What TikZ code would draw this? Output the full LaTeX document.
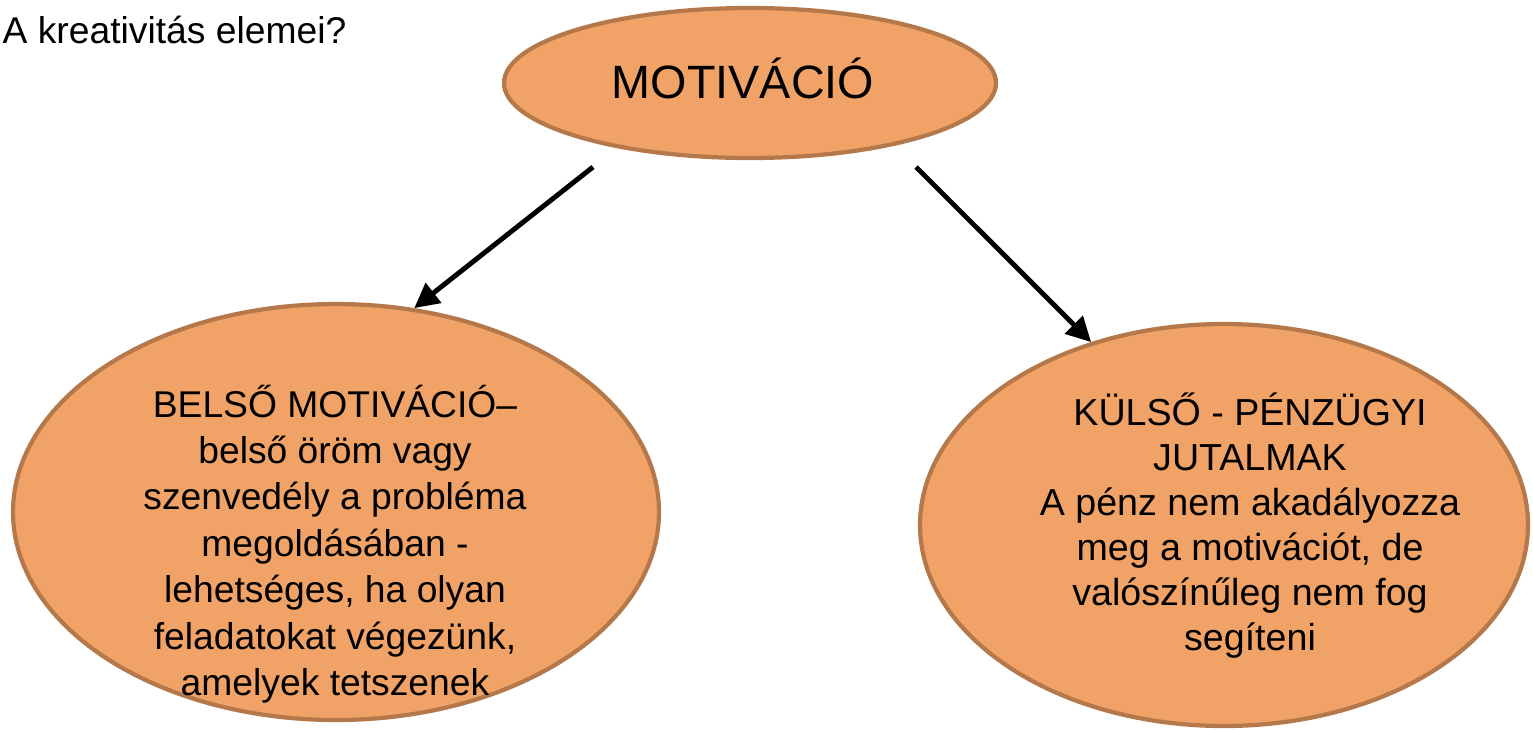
\documentclass[tikz,border=0pt]{standalone}
\usepackage{fontspec}
\setmainfont{Liberation Sans}
\usetikzlibrary{arrows.meta,shapes.geometric}
\definecolor{bubblefill}{HTML}{F1A367}
\definecolor{bubbleline}{HTML}{B5784A}

\begin{document}
\begin{tikzpicture}[
                Bubble/.style={ellipse, draw=bubbleline, fill=bubblefill, line width=1.2pt, inner sep=0pt},
                BubbleText/.style={align=center, inner sep=0pt},
                Link/.style={-{Triangle[length=7pt, width=7pt]}, line width=1.4pt},
            ]
            \useasboundingbox (0,0) rectangle (15.33,7.29);
            \node [anchor=west, inner sep=0pt, font=\fontsize{10.6}{12}\selectfont] (title) at (0.02,6.99) {A kreativitás elemei?};
            % ellipses
            \node [Bubble, minimum width=4.92cm, minimum height=1.50cm] (motiv) at (7.50,6.46) {};
            \node [Bubble, minimum width=6.46cm, minimum height=4.16cm] (belso) at (3.36,2.17) {};
            \node [Bubble, minimum width=6.08cm, minimum height=4.02cm] (kulso) at (12.24,2.04) {};
            % texts
            \node [BubbleText, font=\fontsize{13.3}{15}\selectfont] (motivT) at ([xshift=-0.07cm,yshift=0.05cm]motiv.center) {MOTIVÁCIÓ};
            \node [BubbleText, font=\fontsize{10.6}{13.2}\selectfont] (belsoT) at (3.35,1.85)
                {BELSŐ MOTIVÁCIÓ–\\belső öröm vagy\\szenvedély a probléma\\megoldásában -\\lehetséges, ha olyan\\feladatokat végezünk,\\amelyek tetszenek};
            \node [BubbleText, font=\fontsize{10.7}{12.8}\selectfont] (kulsoT) at (12.50,2.03)
                {KÜLSŐ - PÉNZÜGYI\\JUTALMAK\\A pénz nem akadályozza\\meg a motivációt, de\\valószínűleg nem fog\\segíteni};
            % arrows
            \coordinate (ls) at ([shift={(-1.57,-0.84)}]motiv.center);
            \coordinate (rs) at ([shift={(1.66,-0.84)}]motiv.center);
            \draw [Link] (ls) -- (belso.69);
            \draw [Link] (rs) -- (kulso.126);
        \end{tikzpicture}
\end{document}
